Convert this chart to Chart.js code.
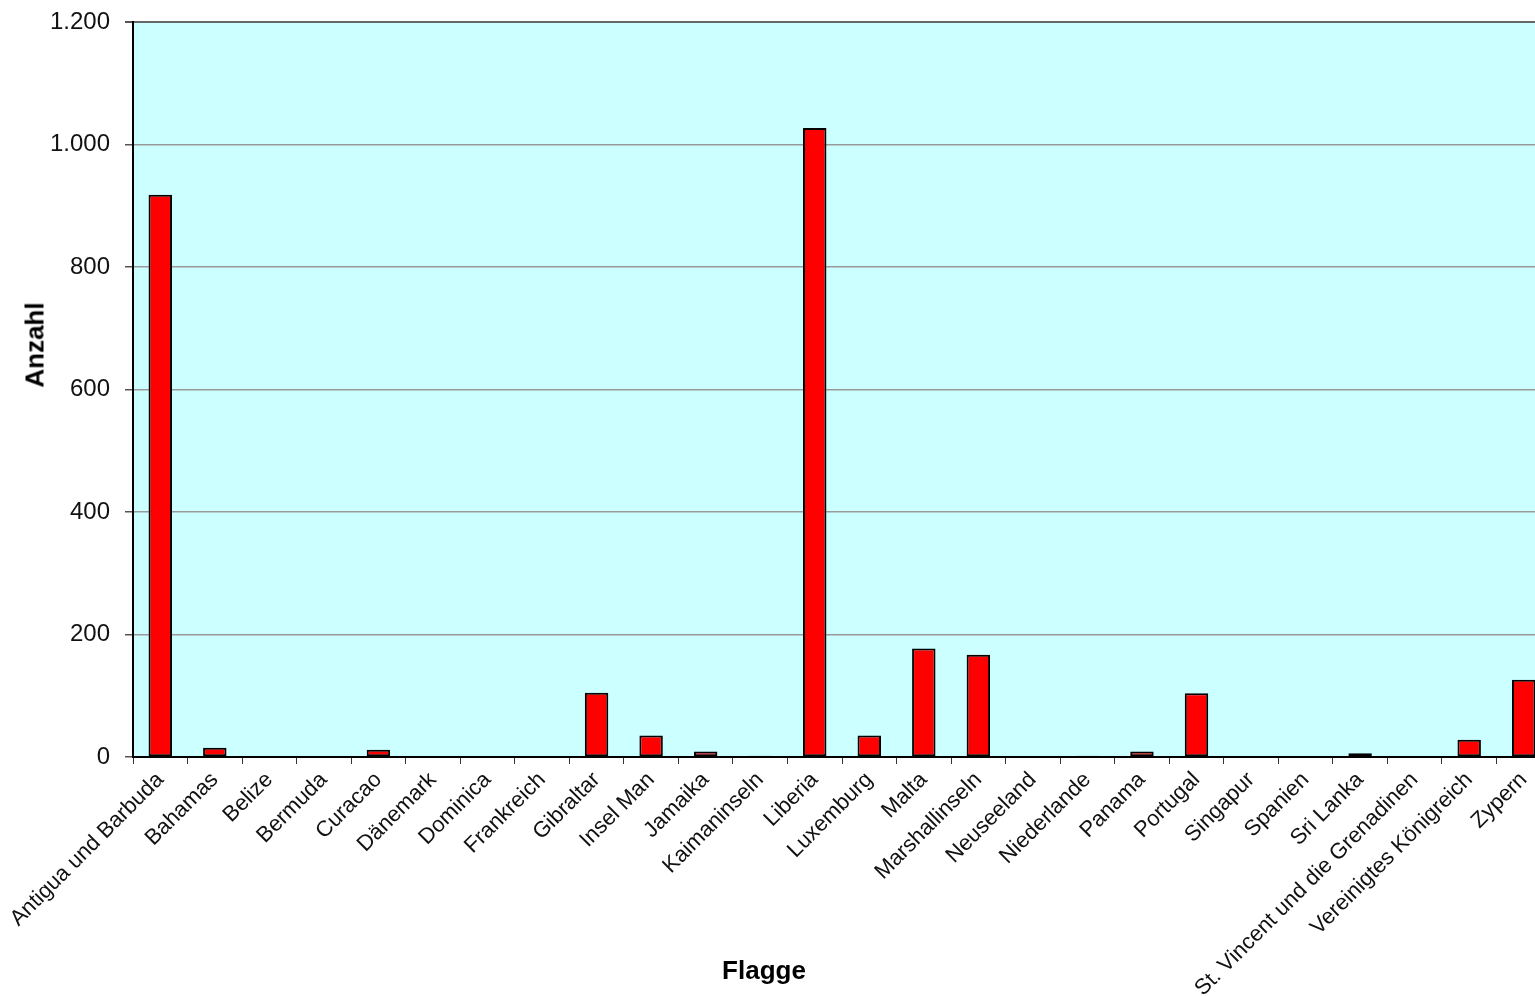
<!DOCTYPE html>
<html>
<head>
<meta charset="utf-8">
<script src="https://cdn.jsdelivr.net/npm/chart.js@4.4.1/dist/chart.umd.min.js"></script>
<style>
  html, body { margin: 0; padding: 0; background: #fff; overflow: hidden; width: 1535px; height: 996px; }
  #wrap { position: relative; width: 1551px; height: 996px; }
  canvas { position: absolute; left: 0; top: 0; }
  .ttl { position: absolute; font-family: "Liberation Sans", Arial, sans-serif; font-weight: bold; font-size: 26px; color: #000; white-space: nowrap; }
  #ytitle { left: 35px; top: 345px; transform: translate(-50%, -50%) rotate(-90deg); }
  #xtitle { left: 764px; top: 970px; transform: translate(-50%, -50%); }
</style>
</head>
<body>
<div id="wrap">
  <canvas id="c" width="1551" height="996"></canvas>
  <div class="ttl" id="ytitle">Anzahl</div>
  <div class="ttl" id="xtitle">Flagge</div>
</div>
<script>
const categories = ["Antigua und Barbuda", "Bahamas", "Belize", "Bermuda", "Curacao", "Dänemark", "Dominica", "Frankreich", "Gibraltar", "Insel Man", "Jamaika", "Kaimaninseln", "Liberia", "Luxemburg", "Malta", "Marshallinseln", "Neuseeland", "Niederlande", "Panama", "Portugal", "Singapur", "Spanien", "Sri Lanka", "St. Vincent und die Grenadinen", "Vereinigtes Königreich", "Zypern"];
const values = [918, 15, 0, 0, 12, 0, 0, 0, 105, 35, 9, 2, 1027, 35, 177, 167, 0, 2, 9, 104, 0, 0, 6, 0, 28, 126];
const yTicks = [0, 200, 400, 600, 800, 1000, 1200];

function deFormat(v) {
  return String(v).replace(/\B(?=(\d{3})+(?!\d))/g, ".");
}

const plotBg = {
  id: 'plotBg',
  beforeDraw(chart) {
    const a = chart.chartArea, ctx = chart.ctx;
    ctx.save();
    ctx.fillStyle = '#CCFFFF';
    ctx.fillRect(a.left, a.top, a.right - a.left, a.bottom - a.top);
    ctx.restore();
  }
};

new Chart(document.getElementById('c'), {
  type: 'bar',
  data: {
    labels: categories,
    datasets: [{
      data: values,
      backgroundColor: '#FF0000',
      borderColor: '#000000',
      borderWidth: 2,
      borderSkipped: false,
      barPercentage: 1.0,
      categoryPercentage: 0.43
    }]
  },
  options: {
    responsive: false,
    animation: false,
    devicePixelRatio: 1,
    layout: { padding: { top: 22, left: 0, right: 0, bottom: 0 } },
    plugins: { legend: { display: false }, tooltip: { enabled: false }, title: { display: false } },
    scales: {
      x: {
        offset: true,
        grid: { display: true, drawOnChartArea: false, offset: true, color: '#333', tickLength: 7, lineWidth: 1 },
        border: { display: true, color: '#000', width: 2 },
        ticks: {
          autoSkip: false,
          minRotation: 45,
          maxRotation: 45,
          padding: 3,
          color: '#111',
          font: { family: '"Liberation Sans", Arial, sans-serif', size: 22 }
        },
        afterFit(scale) { scale.height = 239; scale.paddingLeft = 0; scale.paddingRight = 0; }
      },
      y: {
        min: 0,
        max: 1200,
        afterBuildTicks(scale) { scale.ticks = yTicks.map(v => ({ value: v })); },
        grid: {
          color: (c) => (c.tick && c.tick.value === 1200) ? '#666666' : '#999999',
          lineWidth: (c) => (c.tick && c.tick.value === 1200) ? 2 : 1.5,
          tickLength: 8,
          tickColor: '#555'
        },
        border: { display: true, color: '#000', width: 2 },
        ticks: {
          padding: 15,
          color: '#111',
          font: { family: '"Liberation Sans", Arial, sans-serif', size: 24 },
          callback: (v) => deFormat(v)
        },
        afterFit(scale) { scale.width = 133; scale.paddingTop = 0; scale.paddingBottom = 0; }
      }
    }
  },
  plugins: [plotBg]
});
</script>
</body>
</html>
